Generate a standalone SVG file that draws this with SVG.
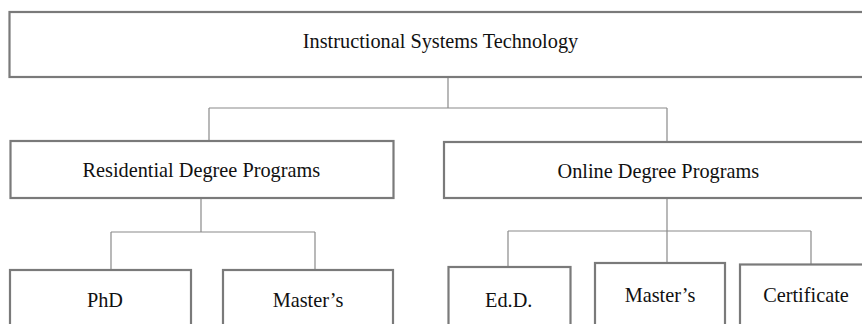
<svg xmlns="http://www.w3.org/2000/svg" width="862" height="324" viewBox="0 0 862 324">
<style>
.box{fill:#fff;stroke:#7a7a7a;stroke-width:2.2}
text{font-family:'Liberation Serif',serif;font-size:20.3px;fill:#111;text-anchor:middle}
.con{fill:none;stroke:#8a8a8a;stroke-width:1.2}
</style>
<rect width="862" height="324" fill="#fff"/>
<g id="connectors" class="con">
<path d="M448,77V108M209,108H667M209,108V141M667,108V142"/>
<path d="M201,198V232M111,232H315M111,232V270M315,232V270"/>
<path d="M667,198V231M508,231H811M508,231V267M667,231V263M811,231V264.5"/>
</g>
<g font-family="Liberation Serif, serif">
<g id="ist"><rect class="box" x="9.5" y="12" width="863" height="65"/><text x="440.5" y="48.3" font-size="20.5">Instructional Systems Technology</text></g>
<g id="residential"><rect class="box" x="10.5" y="141" width="383" height="57"/><text x="201.3" y="177.3">Residential Degree Programs</text></g>
<g id="online"><rect class="box" x="444" y="142" width="428" height="56"/><text x="658.3" y="178.3">Online Degree Programs</text></g>
<g id="phd"><rect class="box" x="10" y="270" width="181" height="60"/><text x="105" y="306.7">PhD</text></g>
<g id="masters-res"><rect class="box" x="223" y="270" width="170" height="60"/><text x="308" y="306.7">Master’s</text></g>
<g id="edd"><rect class="box" x="448.5" y="267" width="122" height="63"/><text x="508.7" y="307">Ed.D.</text></g>
<g id="masters-online"><rect class="box" x="595" y="263" width="130" height="67"/><text x="660" y="301.7">Master’s</text></g>
<g id="certificate"><rect class="box" x="740" y="264.5" width="132" height="66"/><text x="806" y="302">Certificate</text></g>
</g>
</svg>
